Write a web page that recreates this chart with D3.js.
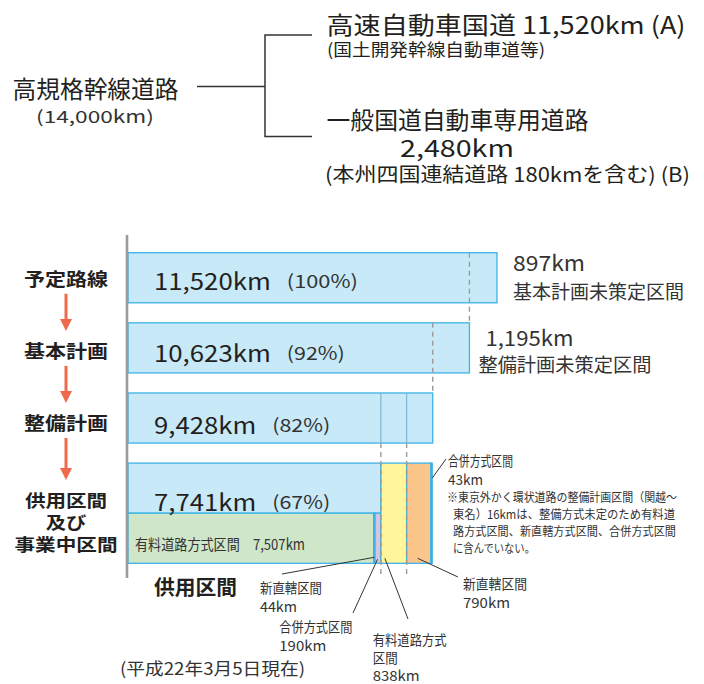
<!DOCTYPE html>
<html>
<head>
<meta charset="utf-8">
<script src="https://cdn.jsdelivr.net/npm/d3@7"></script>
<style>
  body { margin: 0; background: #fff; }
  svg { display: block; font-family: "Noto Sans CJK JP", "Noto Sans", sans-serif; }
</style>
</head>
<body>
<div id="chart"></div>
<script>
// stage data
var stageNames = [["予定路線"], ["基本計画"], ["整備計画"], ["供用区間", "及び", "事業中区間"]];
var stageKm = [11520, 10623, 9428, 7741];
var stagePct = [100, 92, 82, 67];
// sections not yet planned at the next stage
var pendingKm = [897, 1195];
var pendingNames = ["基本計画未策定区間", "整備計画未策定区間"];
// breakdown of the last bar
var openNames = ["有料道路方式区間", "新直轄区間", "合併方式区間"];
var openKm = [7507, 44, 190];
var buildNames = ["有料道路方式区間", "新直轄区間", "合併方式区間"];
var buildKm = [838, 790, 43];
var gaikanKm = 16;
var noteLines = ["※東京外かく環状道路の整備計画区間（関越～",
                 "東名）16kmは、整備方式未定のため有料道",
                 "路方式区間、新直轄方式区間、合併方式区間",
                 "に含んでいない。"];

var width = 704, height = 684;
var ink = "#231f20";
var barFill = "#c8e9f8", barLine = "#3cb4e6", solidBlue = "#2aa8df";
var segFill = {open: ["#cfe6c9", solidBlue, "#d6c6e4"], build: ["#fff59b", "#fbc68c", solidBlue]};
var fmt = d3.format(",");

var svg = d3.select("#chart").append("svg")
   .attr("width", width)
   .attr("height", height);

//Text helper, w squeezes the string to a given width
function txt(g, s, px, py, size, o) {
  o = o || {};
  var t = g.append("text")
     .attr("x", px)
     .attr("y", py)
     .attr("dominant-baseline", "central")
     .attr("text-anchor", o.anchor || "start")
     .style("font-size", size + "px")
     .style("font-weight", o.weight || 400)
     .style("fill", o.fill || ink)
     .text(s);
  if (o.w) t.attr("textLength", o.w).attr("lengthAdjust", "spacingAndGlyphs");
  return t;
}

//---- Top tree ----
var gTop = svg.append("g");
txt(gTop, "高規格幹線道路", 12.5, 87, 24, {w: 166});
txt(gTop, "(14,000km)", 36, 115, 17, {w: 118, fill: "#333"});
gTop.append("path")
   .attr("d", "M197,86.5H265M312,35H265V136.5H312")
   .style("fill", "none")
   .style("stroke", "#333")
   .style("stroke-width", 1.5);
txt(gTop, "高速自動車国道 " + fmt(stageKm[0]) + "km (A)", 326.5, 23, 24, {w: 359});
txt(gTop, "(国土開発幹線自動車道等)", 327, 48, 17, {w: 218});
txt(gTop, "一般国道自動車専用道路", 326.5, 118, 24, {w: 262});
txt(gTop, "2,480km", 400, 147, 23, {w: 114});
txt(gTop, "(本州四国連結道路 180kmを含む) (B)", 325, 173, 20, {w: 365});

//---- Bars ----
var rowUnits = [1, 1, 1, 2], gapUnit = 0.4;
var rowTop = [];
rowUnits.reduce(function(acc, u) { rowTop.push(acc); return acc + u + gapUnit; }, 0);
var y = d3.scaleLinear().domain([0, 6.2]).range([252.7, 563.3]);
// bars start at the axis, the km scale is offset a little to the right
var x = d3.scaleLinear().domain([0, 11520]).range([143, 497]);
var axisX = 127, barLeft = 128;

var gBars = svg.append("g");
var rows = stageKm.map(function(km, i) {
  return {km: km, pct: stagePct[i], y0: y(rowTop[i]), y1: y(rowTop[i] + rowUnits[i])};
});

//Plain bars for the first three stages, upper half for the last one
gBars.selectAll(".bar")
   .data(rows)
   .enter()
   .append("rect")
   .attr("class", "bar")
   .attr("x", barLeft)
   .attr("y", function(d) { return d.y0; })
   .attr("width", function(d) { return x(d.km) - barLeft; })
   .attr("height", function(d, i) { return i < 3 ? d.y1 - d.y0 : (d.y1 - d.y0) / 2; })
   .style("fill", barFill)
   .style("stroke", barLine)
   .style("stroke-width", 1.3);

var r3 = rows[2], r4 = rows[3], mid4 = (r4.y0 + r4.y1) / 2;

//Inner split lines of the third bar
var buildStart = [stageKm[3], stageKm[3] + buildKm[0]];
gBars.selectAll(".split")
   .data(buildStart)
   .enter()
   .append("line")
   .attr("x1", function(d) { return x(d); })
   .attr("x2", function(d) { return x(d); })
   .attr("y1", r3.y0)
   .attr("y2", r3.y1)
   .style("stroke", "#7fb6d2")
   .style("stroke-width", 1.2);

//Lower half of last bar: sections in service
var acc = 0;
var openSegs = openKm.map(function(km, i) {
  var s = {a: acc, b: acc + km, fill: segFill.open[i]};
  acc += km;
  return s;
});
acc = stageKm[3];
var buildSegs = buildKm.map(function(km, i) {
  var s = {a: acc, b: acc + km, fill: segFill.build[i]};
  acc += km;
  return s;
});
gBars.selectAll(".open")
   .data(openSegs)
   .enter()
   .append("rect")
   .attr("x", function(d, i) { return i == 0 ? barLeft : x(d.a); })
   .attr("y", mid4)
   .attr("width", function(d, i) { return x(d.b) - (i == 0 ? barLeft : x(d.a)); })
   .attr("height", r4.y1 - mid4)
   .style("fill", function(d) { return d.fill; })
   .style("stroke", barLine)
   .style("stroke-width", 1.3);
gBars.selectAll(".build")
   .data(buildSegs)
   .enter()
   .append("rect")
   .attr("x", function(d) { return x(d.a); })
   .attr("y", r4.y0)
   .attr("width", function(d) { return x(d.b) - x(d.a); })
   .attr("height", r4.y1 - r4.y0)
   .style("fill", function(d) { return d.fill; })
   .style("stroke", barLine)
   .style("stroke-width", 1.3);

//Dashed guide lines between stages
var guides = [
  {km: stageKm[1], y1: rows[0].y0, y2: rows[1].y0},
  {km: stageKm[2], y1: rows[1].y0, y2: rows[2].y0},
  {km: buildStart[0], y1: r3.y1, y2: 577},
  {km: buildStart[1], y1: r3.y1, y2: 577}
];
gBars.selectAll(".guide")
   .data(guides)
   .enter()
   .append("line")
   .attr("x1", function(d) { return x(d.km); })
   .attr("x2", function(d) { return x(d.km); })
   .attr("y1", function(d) { return d.y1; })
   .attr("y2", function(d) { return d.y2; })
   .style("stroke", "#9b9b9b")
   .style("stroke-width", 1.4)
   .style("stroke-dasharray", "5,4");

//Axis
svg.append("line")
   .attr("x1", axisX).attr("x2", axisX)
   .attr("y1", 235).attr("y2", 578)
   .style("stroke", "#9a9a9a")
   .style("stroke-width", 2.6);

//Values in bars
rows.forEach(function(d, i) {
  var s = fmt(d.km) + "km";
  var cy = i < 3 ? (d.y0 + d.y1) / 2 + 2 * i + 2 : d.y0 + 37.5;
  var w = s.length * 14.6;
  txt(gBars, s, 154, cy, 23, {w: w});
  txt(gBars, "(" + d.pct + "%)", 154 + w + 16, cy, 18, {w: d.pct < 100 ? 58 : 71, fill: "#333"});
});
txt(gBars, openNames[0] + "　" + fmt(openKm[0]) + "km", 135, mid4 + 30.5, 15, {w: 170, fill: "#333"});

//Pending sections to the right of bars 1 and 2
txt(gBars, fmt(pendingKm[0]) + "km", x(stageKm[0]) + 16, 261.7, 21, {w: 72, fill: "#333"});
txt(gBars, pendingNames[0], x(stageKm[0]) + 16, 290.7, 19, {w: 171, fill: "#333"});
txt(gBars, fmt(pendingKm[1]) + "km", x(stageKm[1]) + 16, 336.7, 21, {w: 88, fill: "#333"});
txt(gBars, pendingNames[1], x(stageKm[1]) + 9, 363, 19, {w: 173, fill: "#333"});

//---- Stage labels with arrows ----
var gStage = svg.append("g");
var labelY = [];
stageNames.forEach(function(lines, i) {
  if (i < 3) {
    var cy = (rows[i].y0 + rows[i].y1) / 2 + 2 * i;
    labelY.push([cy]);
    txt(gStage, lines[0], 66, cy, 18, {anchor: "middle", weight: 700, w: 84});
  } else {
    var ys = lines.map(function(l, k) { return rows[i].y0 + 36 + k * 22; });
    labelY.push(ys);
    lines.forEach(function(l, k) {
      txt(gStage, l, 66, ys[k], 17, {anchor: "middle", weight: 700, w: l.length * 20.8 - 1});
    });
  }
});
for (var i = 0; i < 3; i++) {
  var a0 = labelY[i][labelY[i].length - 1] + 16, a1 = labelY[i + 1][0] - 19;
  gStage.append("line")
     .attr("x1", 66).attr("x2", 66)
     .attr("y1", a0).attr("y2", a1 - 10)
     .style("stroke", "#ef6a4c")
     .style("stroke-width", 3);
  gStage.append("path")
     .attr("d", "M60," + (a1 - 12) + "L72," + (a1 - 12) + "L66," + a1 + "Z")
     .style("fill", "#ef6a4c");
}
txt(gStage, "供用区間", 154, 586, 20, {weight: 700, w: 83});
txt(gStage, "(平成22年3月5日現在)", 120, 667, 17, {w: 185, fill: "#333"});

//---- Callouts ----
var gCall = svg.append("g");
function leader(x1, y1, x2, y2) {
  gCall.append("line")
     .attr("x1", x1).attr("y1", y1)
     .attr("x2", x2).attr("y2", y2)
     .style("stroke", "#333")
     .style("stroke-width", 1);
}
//43km
leader(x(buildSegs[2].b), r4.y0 + 15, 446, 459);
txt(gCall, buildNames[2], 448, 460, 14, {w: 65, fill: "#333"});
txt(gCall, buildKm[2] + "km", 448, 479, 14, {w: 35, fill: "#333"});
//Note
noteLines.forEach(function(l, k) {
  var w = [230, 222, 223, 82][k];
  txt(gCall, l, k == 0 ? 447 : 453, 496.7 + k * 16.8, 12, {w: w, fill: "#333"});
});
//790km
leader(x(buildSegs[1].a) + 11, r4.y1 - 5, 458, 577);
txt(gCall, buildNames[1], 463, 583.3, 14, {w: 64, fill: "#333"});
txt(gCall, buildKm[1] + "km", 463, 601.7, 14, {w: 47, fill: "#333"});
//44km
leader(x((openSegs[1].a + openSegs[1].b) / 2), r4.y1 - 6, 282, 574);
txt(gCall, openNames[1], 260, 586.7, 14, {w: 62, fill: "#333"});
txt(gCall, openKm[1] + "km", 260, 606, 14, {w: 37, fill: "#333"});
//190km
leader(x(openSegs[2].a) + 2.5, r4.y1 - 4, 353, 613);
txt(gCall, openNames[2], 279.3, 626, 14, {w: 73, fill: "#333"});
txt(gCall, openKm[2] + "km", 279.3, 645, 14, {w: 47, fill: "#333"});
//838km
leader(x(buildSegs[0].a) + 4, r4.y1 - 5, 408, 619);
txt(gCall, "有料道路方式", 372.7, 639.3, 14, {w: 74, fill: "#333"});
txt(gCall, "区間", 372.7, 656.7, 14, {w: 25, fill: "#333"});
txt(gCall, buildKm[0] + "km", 372.7, 675, 14, {w: 47, fill: "#333"});
</script>
</body>
</html>
